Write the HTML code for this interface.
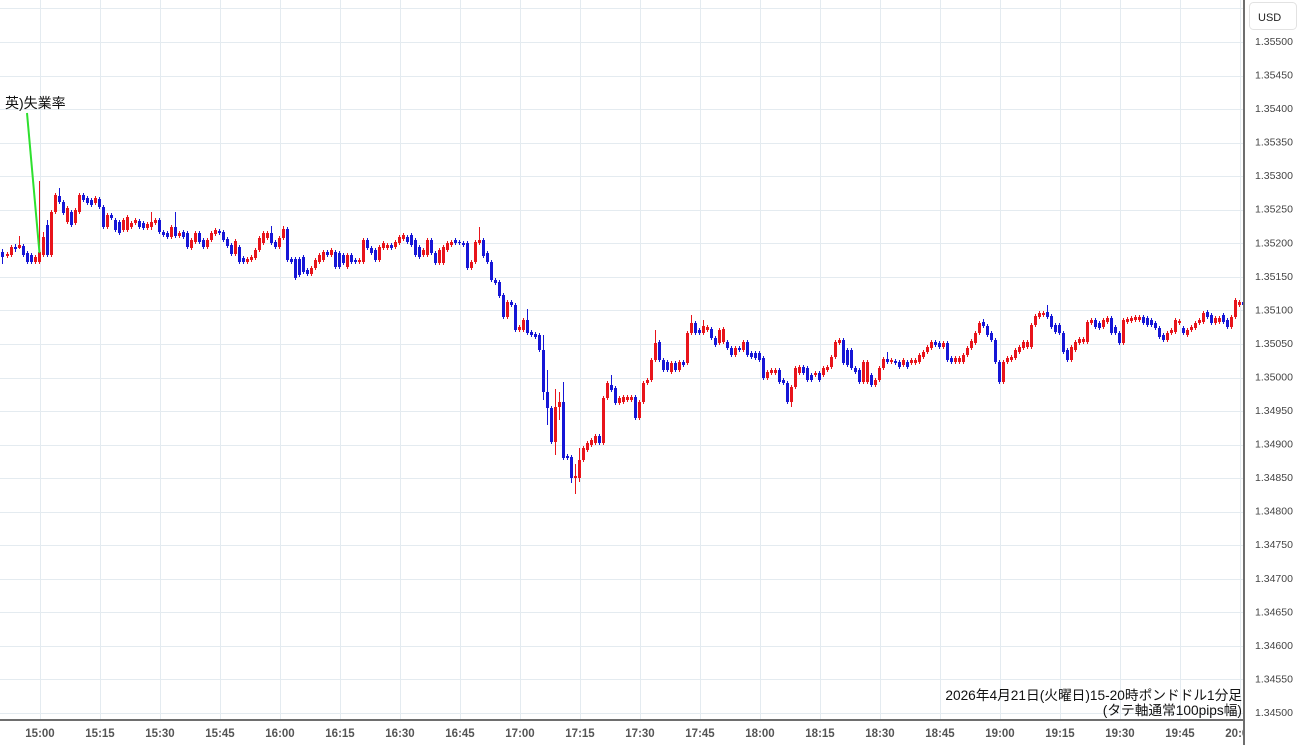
<!DOCTYPE html>
<html><head><meta charset="utf-8">
<style>
html,body{margin:0;padding:0;background:#fff;}
body{width:1300px;height:745px;overflow:hidden;}
svg{display:block;font-family:"Liberation Sans","Noto Sans CJK JP",sans-serif;}
</style></head>
<body>
<svg id="chart" width="1300" height="745" viewBox="0 0 1300 745" xmlns="http://www.w3.org/2000/svg">
<rect x="0" y="0" width="1300" height="745" fill="#fff"/>
<g id="grid"></g>
<g id="candles"></g>
<line x1="27" y1="113" x2="39.5" y2="253" stroke="#2ee02e" stroke-width="2"/>
<text x="5" y="108" font-size="14" fill="#111">英)失業率</text>
<g font-size="13.7" fill="#111" text-anchor="end">
<text x="1242" y="700">2026年4月21日(火曜日)15-20時ポンドドル1分足</text>
<text x="1242" y="715">(タテ軸通常100pips幅)</text>
</g>
<g font-size="11.5" font-weight="bold" fill="#555" text-anchor="middle">
<text x="40" y="737">15:00</text><text x="100" y="737">15:15</text><text x="160" y="737">15:30</text><text x="220" y="737">15:45</text>
<text x="280" y="737">16:00</text><text x="340" y="737">16:15</text><text x="400" y="737">16:30</text><text x="460" y="737">16:45</text>
<text x="520" y="737">17:00</text><text x="580" y="737">17:15</text><text x="640" y="737">17:30</text><text x="700" y="737">17:45</text>
<text x="760" y="737">18:00</text><text x="820" y="737">18:15</text><text x="880" y="737">18:30</text><text x="940" y="737">18:45</text>
<text x="1000" y="737">19:00</text><text x="1060" y="737">19:15</text><text x="1120" y="737">19:30</text><text x="1180" y="737">19:45</text>
<text x="1240" y="737">20:00</text>
</g>
<rect x="1245" y="0" width="55" height="745" fill="#fff"/>
<line x1="0" y1="720" x2="1245" y2="720" stroke="#6e6e6e" stroke-width="2"/>
<line x1="1244" y1="0" x2="1244" y2="745" stroke="#6e6e6e" stroke-width="2"/>
<rect x="1249.5" y="2.5" width="47" height="27" rx="4" fill="#fff" stroke="#e2e2e2"/>
<text x="1258" y="21" font-size="11" fill="#222">USD</text>
<g font-size="10.5" fill="#444" dominant-baseline="central">
<text x="1255" y="42">1.35500</text>
<text x="1255" y="75.5">1.35450</text>
<text x="1255" y="109">1.35400</text>
<text x="1255" y="142.6">1.35350</text>
<text x="1255" y="176.2">1.35300</text>
<text x="1255" y="209.7">1.35250</text>
<text x="1255" y="243.3">1.35200</text>
<text x="1255" y="276.8">1.35150</text>
<text x="1255" y="310.4">1.35100</text>
<text x="1255" y="344">1.35050</text>
<text x="1255" y="377.5">1.35000</text>
<text x="1255" y="411">1.34950</text>
<text x="1255" y="444.6">1.34900</text>
<text x="1255" y="478.1">1.34850</text>
<text x="1255" y="511.7">1.34800</text>
<text x="1255" y="545.2">1.34750</text>
<text x="1255" y="578.8">1.34700</text>
<text x="1255" y="612.3">1.34650</text>
<text x="1255" y="645.9">1.34600</text>
<text x="1255" y="679.4">1.34550</text>
<text x="1255" y="713">1.34500</text>
</g>
</svg>
<script>
(function(){
var NS="http://www.w3.org/2000/svg";
function el(tag,attrs,parent){var e=document.createElementNS(NS,tag);for(var k in attrs)e.setAttribute(k,attrs[k]);parent.appendChild(e);return e;}
var grid=document.getElementById("grid");
for(var k=-1;k<=20;k++){var y=Math.round(42+33.55*k)+0.5;el("line",{x1:0,y1:y,x2:1244,y2:y,stroke:"#e4ebf0","stroke-width":1},grid);}
for(var i=0;i<=20;i++){var x=40+60*i+0.5;el("line",{x1:x,y1:0,x2:x,y2:719,stroke:"#e4ebf0","stroke-width":1},grid);}
var d="2,252,257,b,249,264;7,254,256,r;11,247,255,r;15,247,249,b,244,252;19,245,248,r,236,249;23,246,255,b;27,253,262,b;31,255,262,b;35,257,262,r;39,252,262,r,181,264;43,237,255,r,232,257;47,225,255,b,220,257;51,212,255,r;55,195,212,r;59,196,202,b,188,204;63,202,213,b;67,208,222,r;71,212,225,b;75,210,223,r;79,195,212,r;83,195,200,b;87,198,203,b;91,200,205,b;95,198,203,r;99,199,207,b;103,207,227,b;107,215,227,r;111,215,218,b;115,220,230,b;119,222,233,b;123,220,230,r;127,217,230,r;131,223,227,r;135,220,223,r;139,221,227,b;143,223,228,b;147,224,228,r;151,222,227,r,212,230;155,220,223,r;159,220,232,b;163,232,235,b;167,233,237,b;171,227,237,r;175,227,236,b,212,238;179,233,236,r;183,232,237,b;187,233,247,b;191,240,248,r;195,233,242,r;199,233,242,b;203,240,247,b;207,240,247,r;211,233,240,r;215,230,234,r;219,231,233,b;223,232,240,b;227,239,246,b;231,245,254,b;235,241,254,r;239,247,262,b;243,258,262,b;247,259,262,r;251,257,260,r;255,250,258,r;259,238,250,r;263,233,243,r;267,233,238,r;271,233,243,b,226,245;275,242,247,b;279,238,247,r;283,229,238,r,226,240;287,229,260,b;291,259,262,b;295,259,278,b;299,259,275,b;303,257,272,b;307,270,274,b;311,268,274,r;315,260,268,r;319,255,262,r;323,252,260,r;327,252,255,b;331,250,255,r;335,252,267,b;339,253,267,b;343,255,263,b;347,255,267,r;351,255,262,b;355,260,262,b;359,260,262,r;363,240,262,r;367,240,248,b;371,248,253,b;375,250,260,b;379,247,260,r;383,243,248,r;387,245,248,r;391,245,248,b;395,242,247,r;399,237,243,r;403,235,239,r;407,237,242,b;411,235,245,b;415,240,255,b;419,247,257,b;423,250,255,r;427,240,255,r;431,240,253,b;435,253,263,b;439,250,263,r;443,247,263,r;447,243,250,r;451,242,245,r;455,240,243,b;459,242,243,b;463,243,245,b;467,243,268,b;471,262,268,r;475,242,262,r;479,240,243,r,227,245;483,240,256,b;487,253,262,b;491,262,280,b;495,280,283,b;499,282,296,b;503,295,317,b;507,302,317,r;511,302,305,b;515,305,330,b;519,327,330,r;523,320,330,r;527,320,333,b,309,335;531,332,335,b;535,334,337,b;539,335,350,b;543,350,392,b,335,400;547,392,408,b,370,425;551,408,442,b;555,407,442,r,389,455;559,402,407,r,392,420;563,402,458,b,382,460;567,456,458,b;571,457,478,b,455,483;575,476,478,r,464,494;579,460,478,r,448,482;583,448,460,r;587,443,450,r;591,440,445,r;595,436,443,r;599,436,443,b;603,398,443,r;607,383,398,r;611,385,390,b,375,392;615,388,403,b;619,398,403,r;623,397,402,r;627,397,400,r;631,397,400,r;635,397,418,b;639,402,418,r;643,383,402,r;647,380,383,r;651,360,380,r;655,343,360,r,330,362;659,342,360,b;663,360,370,b;667,362,370,b;671,363,372,r;675,363,370,b;679,362,370,r;683,362,365,b;687,333,363,r;691,323,333,r,315,335;695,323,333,b;699,330,333,b;703,326,333,r,320,335;707,327,330,r;711,329,338,b;715,338,345,b;719,330,343,r;723,329,342,r;727,342,348,b;731,348,355,b;735,348,355,r;739,348,350,b;743,342,350,r;747,342,355,b;751,353,357,b;755,353,358,b;759,353,360,b;763,358,378,b;767,372,378,r;771,370,373,r;775,370,373,r;779,370,382,b;783,380,383,b;787,383,402,b;791,387,402,r,385,407;795,368,387,r;799,367,373,r;803,367,373,b;807,368,380,b;811,375,380,b;815,373,375,r;819,373,380,b;823,368,375,r;827,367,370,r;831,357,367,r;835,342,357,r;839,340,343,r;843,340,363,b;847,350,365,b;851,350,368,b;855,368,372,b;859,370,382,b;863,362,382,r;867,362,382,r;871,375,385,b;875,380,385,r;879,368,380,r;883,359,368,r;887,359,362,b,352,364;891,360,362,r;895,361,363,b;899,362,367,b;903,360,365,r;907,362,367,b;911,360,363,r;915,360,363,r;919,355,362,r;923,352,357,r;927,347,352,r;931,342,348,r;935,342,345,b;939,343,347,b;943,343,347,r;947,343,360,b;951,358,362,b;955,358,362,r;959,358,362,r;963,355,362,r;967,348,355,r;971,341,348,r;975,333,343,r;979,323,333,r;983,322,326,b,319,328;987,326,335,b;991,333,340,b;995,340,362,b;999,362,382,b;1003,362,382,r;1007,358,362,r;1011,357,360,r;1015,350,358,r;1019,347,352,r;1023,342,348,r;1027,342,347,r;1031,325,347,r;1035,316,325,r;1039,313,317,r;1043,313,315,r;1047,312,317,b,305,319;1051,316,327,b;1055,325,332,b;1059,325,333,b;1063,333,352,b;1067,350,360,b;1071,347,360,r;1075,342,350,r;1079,339,343,r;1083,339,342,r;1087,322,342,r;1091,320,323,r;1095,320,327,b;1099,323,328,b;1103,320,327,r;1107,318,322,r;1111,318,333,b;1115,327,333,b;1119,333,343,b;1123,320,343,r;1127,319,322,r;1131,318,321,r;1135,317,320,r;1139,317,320,r;1143,317,323,b;1147,318,325,b;1151,320,325,b;1155,323,328,b;1159,328,337,b;1163,335,340,b;1167,333,340,r;1171,330,333,r;1175,320,332,r;1179,321,323,r;1183,328,333,b;1187,330,335,r;1191,327,330,r;1195,323,328,r;1199,320,323,r;1203,313,322,r;1207,312,317,b;1211,315,323,b;1215,318,323,r;1219,318,322,r;1223,315,322,b;1227,320,327,b;1231,317,327,r;1235,300,317,r;1239,302,305,r;1243,302,305,b";
var g=document.getElementById("candles");
var RED="#e8141b",BLUE="#1616d6";
d.split(";").forEach(function(s){
  var p=s.split(","),x=+p[0],t=+p[1],b=+p[2],c=p[3]==="r"?RED:BLUE;
  var wt=p.length>4?+p[4]:t-(1+(x*7)%4);
  var wb=p.length>5?+p[5]:b+(1+(x*3)%4);
  var cx=x;
  el("rect",{x:cx,y:wt,width:1,height:Math.max(1,wb-wt),fill:c},g);
  el("rect",{x:cx-1,y:t,width:3,height:Math.max(1,b-t),fill:c},g);
});
})();
</script>
</body></html>
